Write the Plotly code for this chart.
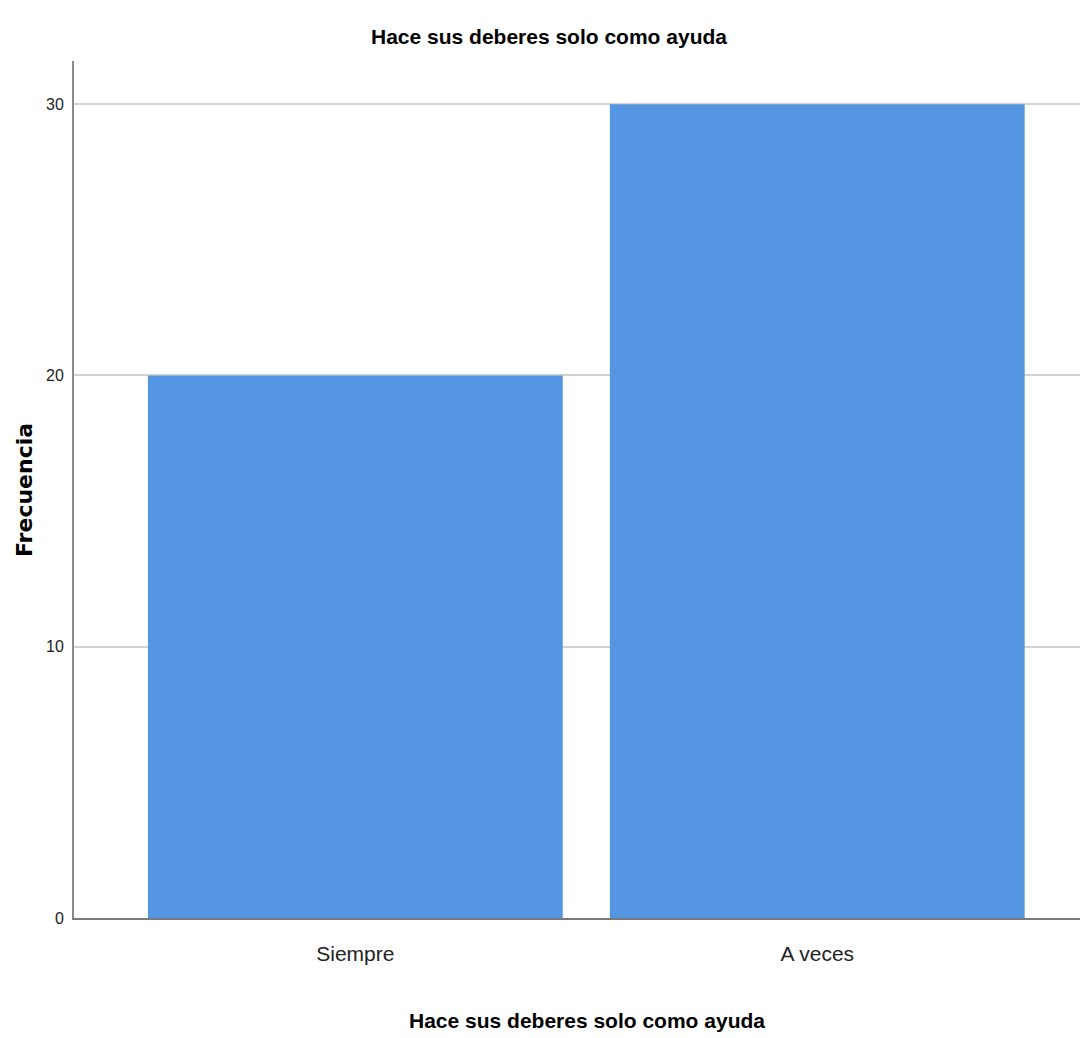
import plotly.graph_objects as go

categories = ["Siempre", "A veces"]
frequencies = [20, 30]
y_ticks = [0, 10, 20, 30]

title_text = "Hace sus deberes solo como ayuda"
x_title = "Hace sus deberes solo como ayuda"
y_title = "Frecuencia"

FONT = "Liberation Sans, Arial, sans-serif"

fig = go.Figure(
    go.Bar(
        x=categories,
        y=frequencies,
        marker=dict(color="#5596E3", line=dict(width=0)),
        hoverinfo="x+y",
    )
)

# page body has an 8px margin; the figure is offset by it
OFF = 8
W, H = 1088 - OFF, 1038 - OFF
L, R, T, B = 74 - OFF, 0, 61 - OFF, 1038 - 918


def px_x(x):
    return (x - OFF - L) / (W - L - R)


def px_y(y):
    return (H - B - (y - OFF)) / (H - T - B)


fig.update_layout(
    width=W,
    height=H,
    margin=dict(l=L, r=R, t=T, b=B, autoexpand=False),
    paper_bgcolor="white",
    plot_bgcolor="white",
    bargap=0.102,
    showlegend=False,
    font=dict(family=FONT, color="#000000"),
)

fig.update_xaxes(
    type="category",
    range=[-0.609, 1.586],
    showgrid=False,
    showline=True,
    linecolor="#7a7a7a",
    linewidth=2,
    ticks="outside",
    ticklen=16,
    tickcolor="rgba(0,0,0,0)",
    tickfont=dict(family=FONT, size=21, color="#222222"),
    zeroline=False,
)

fig.update_yaxes(
    range=[0, 31.59],
    tickvals=y_ticks,
    ticktext=[str(v) for v in y_ticks],
    showgrid=True,
    gridcolor="#d2d2d2",
    gridwidth=2,
    showline=True,
    linecolor="#8a8a8a",
    linewidth=2,
    ticks="outside",
    ticklen=5,
    tickcolor="rgba(0,0,0,0)",
    tickfont=dict(family=FONT, size=16, color="#222222"),
    zeroline=False,
)

fig.add_annotation(
    text=title_text,
    xref="paper", yref="paper",
    x=px_x(549), y=px_y(36),
    xanchor="center", yanchor="middle",
    showarrow=False,
    font=dict(family=FONT, size=21, color="#000000", weight="bold"),
)

fig.add_annotation(
    text=x_title,
    xref="paper", yref="paper",
    x=px_x(587), y=px_y(1021),
    xanchor="center", yanchor="middle",
    showarrow=False,
    font=dict(family=FONT, size=21, color="#000000", weight="bold"),
)

fig.add_annotation(
    text=y_title,
    xref="paper", yref="paper",
    x=px_x(24), y=px_y(490),
    xanchor="center", yanchor="middle",
    textangle=-90,
    showarrow=False,
    font=dict(family="DejaVu Sans, Liberation Sans, Arial, sans-serif", size=22, color="#000000", weight="bold"),
)

fig.write_html("out.html")
